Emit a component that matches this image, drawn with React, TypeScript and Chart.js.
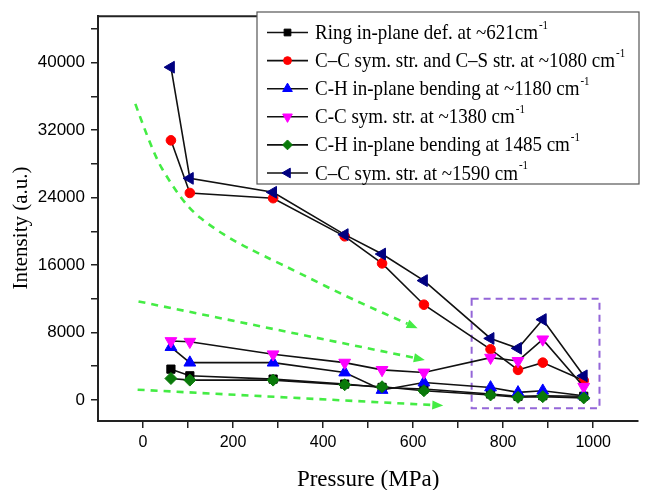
import React, { useEffect, useRef } from 'react';
import { Chart, registerables } from 'chart.js';

Chart.register(...registerables);

// ---- data ----
const pressure = [62, 104, 289, 448, 531, 624, 772, 833, 888, 979];
const ring621 = [3650, 2860, 2470, 1880, 1480, 1290, 700, 430, 500, 430];
const cc1080 = [30780, 24540, 23920, 19400, 16190, 11290, 6000, 3560, 4420, 2300];
const ch1180 = [6270, 4420, 4420, 3250, 1180, 2070, 1480, 890, 1090, 500];
const cc1380 = [6980, 6900, 5410, 4420, 3560, 3250, 5010, 4620, 7180, 1560];
const ch1485 = [2540, 2350, 2350, 1800, 1560, 1090, 590, 310, 390, 240];
const cc1590 = [39450, 26270, 24620, 19600, 17300, 14150, 7290, 6120, 9530, 2860];

const seriesLabels = [
  'Ring in-plane def. at ~621cm',
  'C\u2013C sym. str. and C\u2013S str. at ~1080 cm',
  'C-H in-plane bending at ~1180 cm',
  'C-C sym. str. at ~1380 cm',
  'C-H in-plane bending at 1485 cm',
  'C\u2013C sym. str. at ~1590 cm',
];
const labelSuperscript = '-1';

const xTickValues = [0, 100, 200, 300, 400, 500, 600, 700, 800, 900, 1000];
const yTickValues = [0, 4000, 8000, 12000, 16000, 20000, 24000, 28000, 32000, 36000, 40000, 44000];

// annotation guides (data coordinates: MPa, a.u.)
const arrowCurveX = [-17, 22, 60, 103, 153, 206, 263, 350, 460, 610];
const arrowCurveY = [35100, 29300, 25800, 22620, 20500, 18740, 17210, 14980, 12040, 8500];
const arrowMidX = [-10, 626];
const arrowMidY = [11680, 4740];
const arrowLowX = [-12, 667];
const arrowLowY = [1210, -670];
const highlightBoxX = [730, 1014];
const highlightBoxY = [-1000, 12000];

// ---- styles ----
const seriesStyle = [
  { data: ring621, color: '#000000', style: 'rect', rot: 0, r: 5.8 },
  { data: cc1080, color: '#ff0000', style: 'circle', rot: 0, r: 4.8 },
  { data: ch1180, color: '#0000ff', style: 'triangle', rot: 0, r: 6.8 },
  { data: cc1380, color: '#ff00ff', style: 'triangle', rot: 180, r: 6.8 },
  { data: ch1485, color: '#0a7a0a', style: 'rectRot', rot: 0, r: 6 },
  { data: cc1590, color: '#000080', style: 'triangle', rot: 270, r: 6.8 },
];

function drawMarker(ctx: CanvasRenderingContext2D, style: string, rot: number, x: number, y: number, r: number, color: string) {
  ctx.save();
  ctx.fillStyle = color;
  ctx.strokeStyle = color;
  ctx.lineWidth = 1;
  ctx.beginPath();
  if (style === 'circle') {
    ctx.arc(x, y, r, 0, Math.PI * 2);
  } else if (style === 'rect') {
    const s = r * Math.SQRT1_2;
    ctx.rect(x - s, y - s, 2 * s, 2 * s);
  } else if (style === 'rectRot') {
    ctx.moveTo(x, y - r);
    ctx.lineTo(x + r, y);
    ctx.lineTo(x, y + r);
    ctx.lineTo(x - r, y);
    ctx.closePath();
  } else {
    let a = (rot * Math.PI) / 180;
    ctx.moveTo(x + Math.sin(a) * r, y - Math.cos(a) * r);
    for (let k = 0; k < 2; k++) {
      a += (2 * Math.PI) / 3;
      ctx.lineTo(x + Math.sin(a) * r, y - Math.cos(a) * r);
    }
    ctx.closePath();
  }
  ctx.fill();
  ctx.stroke();
  ctx.restore();
}

function drawArrow(ctx: CanvasRenderingContext2D, pts: { x: number; y: number }[]) {
  ctx.save();
  ctx.strokeStyle = '#44ec44';
  ctx.fillStyle = '#44ec44';
  ctx.lineWidth = 2.6;
  ctx.setLineDash([7, 6]);
  ctx.beginPath();
  ctx.moveTo(pts[0].x, pts[0].y);
  if (pts.length > 2) {
    for (let i = 1; i < pts.length - 1; i++) {
      const mx = (pts[i].x + pts[i + 1].x) / 2;
      const my = (pts[i].y + pts[i + 1].y) / 2;
      ctx.quadraticCurveTo(pts[i].x, pts[i].y, mx, my);
    }
  }
  const end = pts[pts.length - 1];
  const prev = pts[pts.length - 2];
  const ang = Math.atan2(end.y - prev.y, end.x - prev.x);
  const L = 11;
  const bx = end.x - Math.cos(ang) * L;
  const by = end.y - Math.sin(ang) * L;
  ctx.lineTo(bx, by);
  ctx.stroke();
  ctx.setLineDash([]);
  ctx.beginPath();
  ctx.moveTo(end.x, end.y);
  ctx.lineTo(bx + Math.cos(ang + Math.PI / 2) * 4.5, by + Math.sin(ang + Math.PI / 2) * 4.5);
  ctx.lineTo(bx + Math.cos(ang - Math.PI / 2) * 4.5, by + Math.sin(ang - Math.PI / 2) * 4.5);
  ctx.closePath();
  ctx.fill();
  ctx.restore();
}

const guidesPlugin = {
  id: 'guides',
  beforeDatasetsDraw(chart: any) {
    const { ctx } = chart;
    const xs = chart.scales.x;
    const ys = chart.scales.y;
    const toPts = (X: number[], Y: number[]) => X.map((v, i) => ({ x: xs.getPixelForValue(v), y: ys.getPixelForValue(Y[i]) }));
    drawArrow(ctx, toPts(arrowCurveX, arrowCurveY));
    drawArrow(ctx, toPts(arrowMidX, arrowMidY));
    drawArrow(ctx, toPts(arrowLowX, arrowLowY));
    // highlight box
    const l = xs.getPixelForValue(highlightBoxX[0]);
    const r = xs.getPixelForValue(highlightBoxX[1]);
    const t = ys.getPixelForValue(highlightBoxY[1]);
    const b = ys.getPixelForValue(highlightBoxY[0]);
    ctx.save();
    ctx.strokeStyle = '#9466d8';
    ctx.lineWidth = 2;
    ctx.setLineDash([7, 5]);
    ctx.beginPath();
    ctx.rect(l, t, r - l, b - t);
    ctx.stroke();
    ctx.restore();
  },
};

const framePlugin = {
  id: 'frame',
  afterDraw(chart: any) {
    const { ctx, chartArea } = chart;
    ctx.save();
    ctx.strokeStyle = '#222';
    ctx.lineWidth = 2;
    ctx.beginPath();
    ctx.moveTo(chartArea.left - 1, chartArea.top);
    ctx.lineTo(chartArea.right, chartArea.top);
    ctx.stroke();

    // axis titles
    ctx.fillStyle = '#000';
    ctx.font = '23px "Liberation Serif"';
    ctx.textAlign = 'center';
    ctx.textBaseline = 'alphabetic';
    ctx.fillText('Pressure (MPa)', (chartArea.left + chartArea.right) / 2, 486);
    ctx.save();
    ctx.translate(27, 228);
    ctx.rotate(-Math.PI / 2);
    ctx.font = '21px "Liberation Serif"';
    ctx.fillText('Intensity (a.u.)', 0, 0);
    ctx.restore();

    // legend
    const box = { l: 257, t: 12, r: 639, b: 184 };
    ctx.fillStyle = '#fff';
    ctx.fillRect(box.l, box.t, box.r - box.l, box.b - box.t);
    ctx.strokeStyle = '#555';
    ctx.lineWidth = 1.2;
    ctx.strokeRect(box.l, box.t, box.r - box.l, box.b - box.t);
    seriesLabels.forEach((lab, i) => {
      const y = 32.5 + i * 28.1;
      const s = seriesStyle[i];
      ctx.strokeStyle = '#111';
      ctx.lineWidth = 1.6;
      ctx.beginPath();
      ctx.moveTo(267, y);
      ctx.lineTo(308, y);
      ctx.stroke();
      drawMarker(ctx, s.style, s.rot, 287.5, y, s.r * 0.82, s.color);
      ctx.save();
      ctx.translate(315, y + 1);
      ctx.scale(1, 1.12);
      ctx.fillStyle = '#000';
      ctx.font = '19px "Liberation Serif"';
      ctx.textAlign = 'left';
      ctx.textBaseline = 'middle';
      ctx.fillText(lab, 0, 0);
      const w = ctx.measureText(lab).width;
      ctx.font = '11px "Liberation Serif"';
      ctx.fillText(labelSuperscript, w + 1, -7);
      ctx.restore();
    });
    ctx.restore();
  },
};

export default function App() {
  const ref = useRef<HTMLCanvasElement | null>(null);
  useEffect(() => {
    document.body.style.margin = '0';
    const canvas = ref.current;
    if (!canvas) return;
    const datasets = seriesStyle.map((s, i) => ({
      label: seriesLabels[i],
      data: pressure.map((x, k) => ({ x, y: s.data[k] })),
      borderColor: '#111',
      borderWidth: 1.6,
      backgroundColor: s.color,
      pointStyle: s.style,
      rotation: s.rot,
      pointRadius: s.r,
      pointHoverRadius: s.r,
      pointBackgroundColor: s.color,
      pointBorderColor: s.color,
      pointBorderWidth: 1,
      tension: 0,
      order: seriesStyle.length - i,
    }));
    const chart = new Chart(canvas, {
      type: 'line',
      data: { datasets: datasets as any },
      plugins: [guidesPlugin, framePlugin],
      options: {
        animation: false,
        responsive: false,
        devicePixelRatio: 1,
        layout: { padding: { top: 13, right: 0, left: 0, bottom: 0 } },
        plugins: { legend: { display: false }, tooltip: { enabled: false } },
        scales: {
          x: {
            type: 'linear',
            min: -100,
            max: 1100,
            afterBuildTicks: (s: any) => {
              s.ticks = xTickValues.map((v) => ({ value: v }));
            },
            afterFit: (s: any) => {
              s.height = 69;
            },
            ticks: {
              autoSkip: false,
              maxRotation: 0,
              color: '#000',
              font: { family: '"Liberation Sans", Arial', size: 16 },
              padding: 5,
              callback: (v: any) => (Number(v) % 200 === 0 ? String(v) : ''),
            },
            grid: { display: true, drawOnChartArea: false, drawTicks: true, tickLength: 7, color: '#222', lineWidth: 1.5 },
            border: { display: true, color: '#222', width: 2 },
          },
          y: {
            type: 'linear',
            min: -2500,
            max: 45500,
            afterBuildTicks: (s: any) => {
              s.ticks = yTickValues.map((v) => ({ value: v }));
            },
            afterFit: (s: any) => {
              s.width = 98;
            },
            ticks: {
              autoSkip: false,
              color: '#000',
              font: { family: '"Liberation Sans", Arial', size: 17 },
              padding: 6,
              callback: (v: any) => (Number(v) % 8000 === 0 ? String(v) : ''),
            },
            grid: { display: true, drawOnChartArea: false, drawTicks: true, tickLength: 7, color: '#222', lineWidth: 1.5 },
            border: { display: true, color: '#222', width: 2 },
          },
        },
      },
    });
    return () => chart.destroy();
  }, []);
  return (
    <div style={{ position: 'fixed', left: 0, top: 0, width: 646, height: 490, background: '#fff' }}>
      <canvas ref={ref} width={646} height={490} style={{ width: 646, height: 490, display: 'block' }} />
    </div>
  );
}
